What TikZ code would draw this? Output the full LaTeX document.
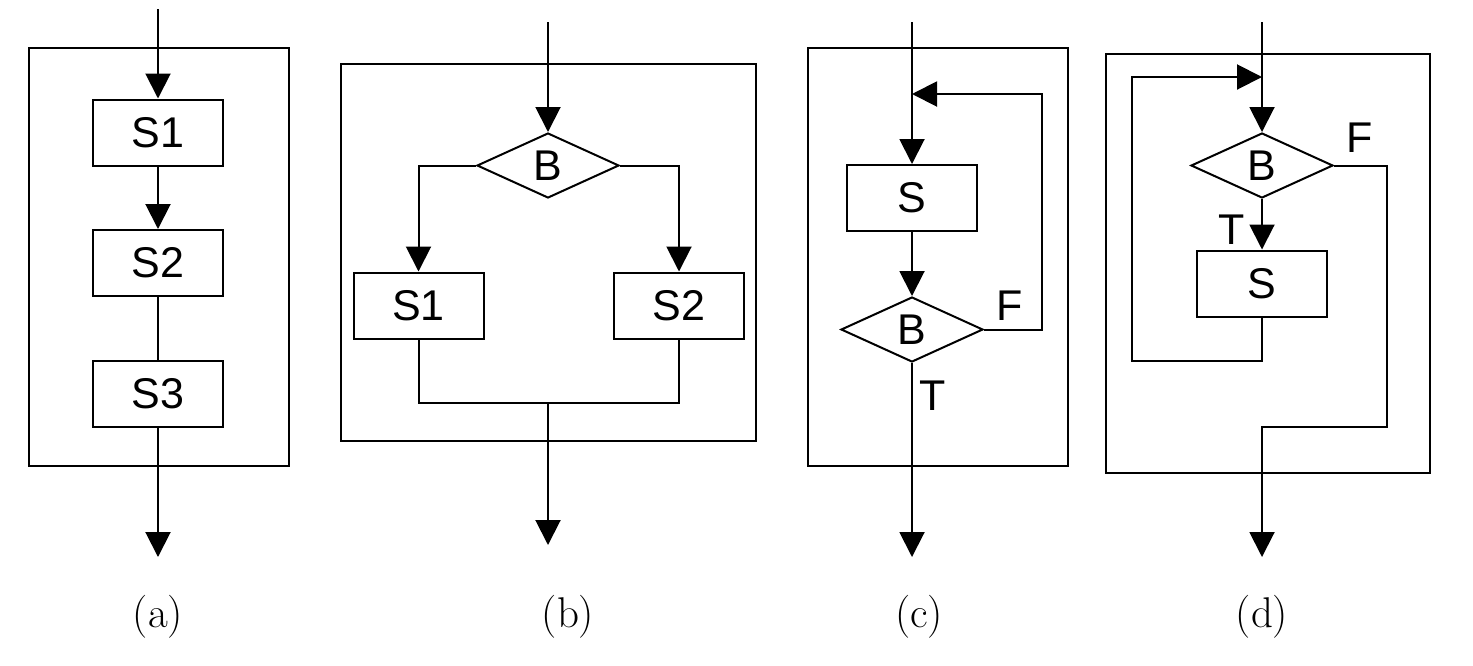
\documentclass[tikz,border=0pt]{standalone}
\usepackage{fontspec}
\setsansfont{Liberation Sans}
\usetikzlibrary{arrows.meta,shapes.geometric}
\begin{document}
\begin{tikzpicture}[x=0.5pt,y=-0.5pt,
  line width=1pt,
  arr/.style={-{Triangle[width=12.5pt,length=12.5pt]}},
  panel/.style={draw,line width=1pt},
  proc/.style={draw,rectangle,minimum width=65pt,minimum height=33pt,inner sep=0pt,font=\sffamily\fontsize{21.5}{25}\selectfont},
  decbox/.style={draw,diamond,minimum width=71pt,minimum height=32.5pt,inner sep=0pt,font=\sffamily\fontsize{21.5}{25}\selectfont},
  lbl/.style={font=\sffamily\fontsize{21.5}{25}\selectfont,inner sep=0pt},
  sublabel/.style={font=\fontsize{21.5}{25}\selectfont,inner sep=0pt}]
\useasboundingbox (0,0) rectangle (1473,665);

% ---------- (a)
\draw[panel] (29,48) rectangle (289,466);
\node[proc] (a1) at (158,132.5) {S1};
\node[proc] (a2) at (158,263) {S2};
\node[proc] (a3) at (158,394) {S3};
\coordinate (ain) at (158,9);
\coordinate (aout) at (158,557);
\draw[arr] (ain) -- (a1);
\draw[arr] (a1) -- (a2);
\draw (a2) -- (a3);
\draw[arr] (a3) -- (aout);
\node[sublabel] (la) at (158,617) {(a)};

% ---------- (b)
\draw[panel] (341,64) rectangle (756,441);
\node[decbox] (bB) at (548,165.5) {B};
\node[proc] (b1) at (418.5,305.5) {S1};
\node[proc] (b2) at (679,305.5) {S2};
\coordinate (bin) at (548,22);
\coordinate (bj) at (548,403);
\coordinate (bout) at (548,545);
\draw[arr] (bin) -- (bB);
\draw[arr] (bB.west) -| (b1);
\draw[arr] (bB.east) -| (b2);
\draw (b1) |- (bj);
\draw (b2) |- (bj);
\draw[arr] (bj) -- (bout);
\node[sublabel] (lb) at (568,617) {(b)};

% ---------- (c)
\draw[panel] (808,48) rectangle (1068,466);
\node[proc] (cS) at (912,198) {S};
\node[decbox] (cB) at (912,329.5) {B};
\coordinate (cin) at (912,22);
\coordinate (cj) at (912,94);
\coordinate (cr) at (1042,94);
\coordinate (cout) at (912,557);
\draw[arr] (cin) -- (cS);
\draw[arr] (cS) -- (cB);
\draw[arr] (cB.east) -| (cr) -- (cj);
\draw[arr] (cB) -- (cout);
\node[lbl] (cF) at (1010,306) {F};
\node[lbl] (cT) at (933,396) {T};
\node[sublabel] (lc) at (919,617) {(c)};

% ---------- (d)
\draw[panel] (1106,54) rectangle (1430,473);
\node[decbox] (dB) at (1262,165.5) {B};
\node[proc] (dS) at (1262,283.5) {S};
\coordinate (din) at (1262,22);
\coordinate (dj) at (1262,77);
\coordinate (dl) at (1132,361);
\coordinate (dr) at (1387,427);
\coordinate (dout) at (1262,557);
\draw[arr] (din) -- (dB);
\draw[arr] (dB) -- (dS);
\draw[arr] (dS) |- (dl) |- (dj);
\draw[arr] (dB.east) -| (dr) -| (dout);
\node[lbl] (dF) at (1360,138) {F};
\node[lbl] (dT) at (1232,230) {T};
\node[sublabel] (ld) at (1262,617) {(d)};
\end{tikzpicture}
\end{document}
